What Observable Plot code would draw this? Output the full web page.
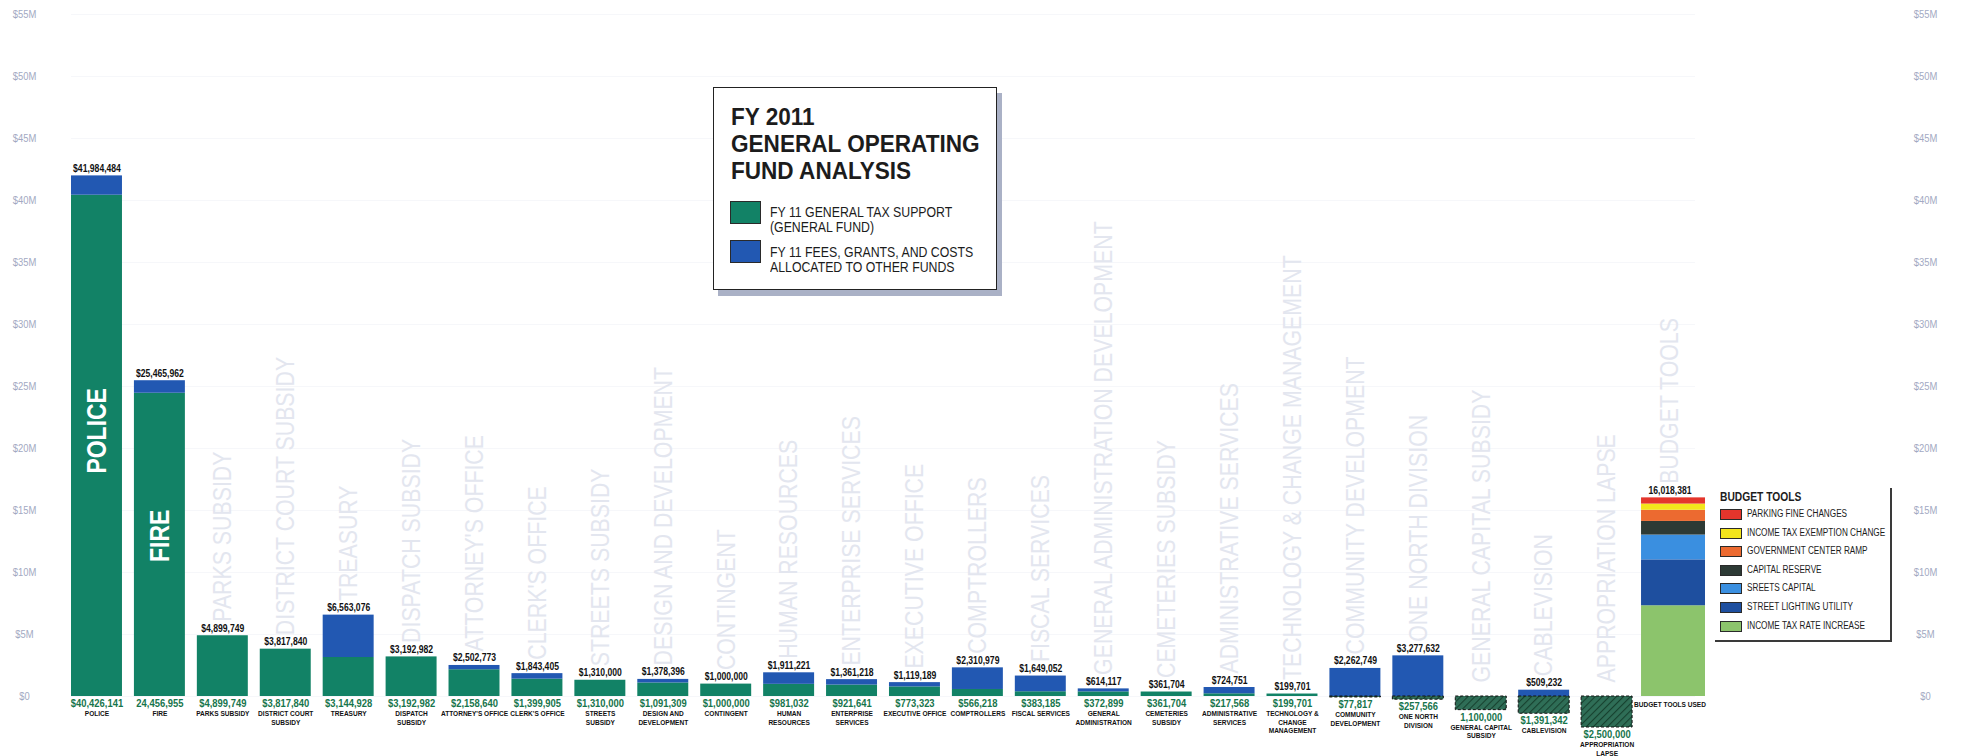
<!DOCTYPE html>
<html>
<head>
<meta charset="utf-8">
<script src="https://cdn.jsdelivr.net/npm/d3@7"></script>
<script src="https://cdn.jsdelivr.net/npm/@observablehq/plot@0.6"></script>
<style>
  html, body { margin: 0; padding: 0; background: #fff; overflow: hidden; }
  #wrap { position: relative; width: 1961px; height: 756px; font-family: 'Liberation Sans', Arial, sans-serif; }
  #chart { position: absolute; left: 0; top: 0; }
  .nar { transform: scaleX(0.82); transform-origin: 0 0; }
  .tb { position: absolute; left: 713px; top: 87px; width: 284px; height: 203px; border: 1.5px solid #222; box-shadow: 5px 6px 0 #aab1c6; background: #fff; box-sizing: border-box; }
  .tb .t { position: absolute; left: 17px; font-size: 24px; font-weight: bold; height: 27px; line-height: 27px; color: #1c1c1c; white-space: nowrap; transform: scaleX(0.94); transform-origin: 0 0; }
  .sw { position: absolute; box-sizing: border-box; border: 1px solid #2a2a2a; }
  .tb .lt { position: absolute; left: 55.5px; font-size: 15px; height: 15px; line-height: 15px; color: #1c1c1c; white-space: nowrap; }
  .bt { position: absolute; left: 1715px; top: 488px; width: 177px; height: 154px; border-right: 2px solid #3a3a3a; border-bottom: 2px solid #3a3a3a; box-sizing: border-box; }
  .bt .h { position: absolute; left: 5px; top: 1.7px; font-size: 12.5px; line-height: 14px; font-weight: bold; color: #1c1c1c; white-space: nowrap; }
  .bt .r { position: absolute; left: 32px; font-size: 10px; line-height: 12px; color: #1c1c1c; white-space: nowrap; }
</style>
</head>
<body>
<svg width="0" height="0" style="position:absolute">
  <defs>
    <pattern id="hatch" patternUnits="userSpaceOnUse" width="5" height="5" patternTransform="rotate(45)">
      <rect width="5" height="5" fill="#2f6e57"></rect>
      <line x1="0" y1="0" x2="0" y2="5" stroke="#17412f" stroke-width="2.2"></line>
    </pattern>
  </defs>
</svg>
<div id="wrap">
  <div id="chart"></div>
  <div class="tb">
    <div class="t" style="top:15px;">FY 2011</div>
    <div class="t" style="top:42px;">GENERAL OPERATING</div>
    <div class="t" style="top:69px;">FUND ANALYSIS</div>
    <div class="sw" id="swG" style="left:15.5px;top:112.5px;width:31px;height:23px;"></div>
    <div class="lt nar" style="top:115.8px;">FY 11 GENERAL TAX SUPPORT</div>
    <div class="lt nar" style="top:130.8px;">(GENERAL FUND)</div>
    <div class="sw" id="swB" style="left:15.5px;top:151.5px;width:31px;height:23px;"></div>
    <div class="lt nar" style="top:155.8px;">FY 11 FEES, GRANTS, AND COSTS</div>
    <div class="lt nar" style="top:170.8px;">ALLOCATED TO OTHER FUNDS</div>
  </div>
  <div class="bt" id="bt"><div class="h nar">BUDGET TOOLS</div></div>
</div>
<script>
// ---------- DATA ----------
const categories = ["POLICE","FIRE","PARKS SUBSIDY","DISTRICT COURT SUBSIDY","TREASURY","DISPATCH SUBSIDY","ATTORNEY'S OFFICE","CLERK'S OFFICE","STREETS SUBSIDY","DESIGN AND DEVELOPMENT","CONTINGENT","HUMAN RESOURCES","ENTERPRISE SERVICES","EXECUTIVE OFFICE","COMPTROLLERS","FISCAL SERVICES","GENERAL ADMINISTRATION","CEMETERIES SUBSIDY","ADMINISTRATIVE SERVICES","TECHNOLOGY & CHANGE MANAGEMENT","COMMUNITY DEVELOPMENT","ONE NORTH DIVISION","GENERAL CAPITAL SUBSIDY","CABLEVISION","APPROPRIATION LAPSE","BUDGET TOOLS USED"];
const nameLabels = ["POLICE","FIRE","PARKS SUBSIDY","DISTRICT COURT\nSUBSIDY","TREASURY","DISPATCH\nSUBSIDY","ATTORNEY'S OFFICE","CLERK'S OFFICE","STREETS\nSUBSIDY","DESIGN AND\nDEVELOPMENT","CONTINGENT","HUMAN\nRESOURCES","ENTERPRISE\nSERVICES","EXECUTIVE OFFICE","COMPTROLLERS","FISCAL SERVICES","GENERAL\nADMINISTRATION","CEMETERIES\nSUBSIDY","ADMINISTRATIVE\nSERVICES","TECHNOLOGY &\nCHANGE\nMANAGEMENT","COMMUNITY\nDEVELOPMENT","ONE NORTH\nDIVISION","GENERAL CAPITAL\nSUBSIDY","CABLEVISION","APPROPRIATION\nLAPSE","BUDGET TOOLS USED"];
// FY 11 general tax support (negative = hatched amounts hanging below $0)
const generalTaxSupport = [40426141,24456955,4899749,3817840,3144928,3192982,2158640,1399905,1310000,1091309,1000000,981032,921641,773323,566218,383185,372899,361704,217568,199701,-77817,-257566,-1100000,-1391342,-2500000,null];
const generalLabels = ["$40,426,141","24,456,955","$4,899,749","$3,817,840","$3,144,928","$3,192,982","$2,158,640","$1,399,905","$1,310,000","$1,091,309","$1,000,000","$981,032","$921,641","$773,323","$566,218","$383,185","$372,899","$361,704","$217,568","$199,701","$77,817","$257,566","1,100,000","$1,391,342","$2,500,000",""];
// bar top (general tax support + fees, grants and costs allocated to other funds)
const totalValues = [41984484,25465962,4899749,3817840,6563076,3192982,2502773,1843405,1310000,1378396,1000000,1911221,1361218,1119189,2310979,1649052,614117,361704,724751,199701,2262749,3277632,0,509232,0,16018381];
const totalLabels = ["$41,984,484","$25,465,962","$4,899,749","$3,817,840","$6,563,076","$3,192,982","$2,502,773","$1,843,405","$1,310,000","$1,378,396","$1,000,000","$1,911,221","$1,361,218","$1,119,189","$2,310,979","$1,649,052","$614,117","$361,704","$724,751","$199,701","$2,262,749","$3,277,632","","$509,232","","16,018,381"];
const watermarks = ["","","PARKS SUBSIDY","DISTRICT COURT SUBSIDY","TREASURY","DISPATCH SUBSIDY","ATTORNEY'S OFFICE","CLERK'S OFFICE","STREETS SUBSIDY","DESIGN AND DEVELOPMENT","CONTINGENT","HUMAN RESOURCES","ENTERPRISE SERVICES","EXECUTIVE OFFICE","COMPTROLLERS","FISCAL SERVICES","GENERAL ADMINISTRATION DEVELOPMENT","CEMETERIES SUBSIDY","ADMINISTRATIVE SERVICES","TECHNOLOGY & CHANGE MANAGEMENT","COMMUNITY DEVELOPMENT","ONE NORTH DIVISION","GENERAL CAPITAL SUBSIDY","CABLEVISION","APPROPRIATION LAPSE","BUDGET TOOLS"];
const insideLabels = ["POLICE","FIRE"];
// Budget tools stack, bottom to top
const budgetTools = ["INCOME TAX RATE INCREASE","STREET LIGHTING UTILITY","SREETS CAPITAL","CAPITAL RESERVE","GOVERNMENT CENTER RAMP","INCOME TAX EXEMPTION CHANGE","PARKING FINE CHANGES"];
const budgetValues = [7318381,3700000,2000000,1100000,900000,500000,500000];
const budgetColors = ["#8cc46c","#1e4f9f","#3a8fe0","#2d3a35","#ec6a30","#f3e51c","#e4352c"];
const yTicks = [0,5e6,10e6,15e6,20e6,25e6,30e6,35e6,40e6,45e6,50e6,55e6];

const GREEN = "#128266", BLUE = "#2258b2", LABEL_GREEN = "#17754c";
const FONT = "'Liberation Sans', Arial, sans-serif";
const NARROW = 0.82;

// ---------- ROWS ----------
const rows = categories.map((cat, i) => ({
  cat,
  name: nameLabels[i],
  general: generalTaxSupport[i],
  generalLabel: generalLabels[i],
  total: totalValues[i],
  totalLabel: totalLabels[i],
  watermark: watermarks[i],
  inside: insideLabels[i] || ""
}));
const budgetRows = budgetTools.map((tool, i) => ({cat: "BUDGET TOOLS USED", tool, value: budgetValues[i]}));
const fmt = d => d === 0 ? "$0" : `$${d / 1e6}M`;

const chart = Plot.plot({
  width: 1961,
  height: 756,
  marginLeft: 71,
  marginRight: 266,
  marginTop: 14,
  marginBottom: 60,
  x: {domain: categories, paddingInner: 0.19, paddingOuter: 0, align: 0, round: false, axis: null},
  y: {domain: [0, 55e6], axis: null},
  color: {domain: budgetTools, range: budgetColors},
  style: {fontFamily: FONT, background: "transparent", overflow: "visible"},
  marks: [
    Plot.gridY(yTicks, {stroke: "#b9c0d6", strokeOpacity: 0.12}),
    Plot.axisY(yTicks, {anchor: "left", tickSize: 0, tickPadding: 47, textAnchor: "middle", tickFormat: fmt, color: "#a2a9c2", fontSize: 11.5, label: null}),
    Plot.axisY(yTicks, {anchor: "right", tickSize: 0, tickPadding: 230, textAnchor: "middle", tickFormat: fmt, color: "#a2a9c2", fontSize: 11.5, label: null}),
    // faint background names
    Plot.text(rows.filter(d => d.watermark), {
      x: "cat", y: d => Math.max(d.total, 0), text: "watermark", rotate: -90, textAnchor: "start",
      dy: -14, fontSize: 26, fill: "#e3e6ef"
    }),
    // general tax support (positive)
    Plot.barY(rows.filter(d => d.general > 0), {x: "cat", y1: 0, y2: "general", fill: GREEN}),
    // fees, grants and costs allocated to other funds
    Plot.barY(rows.filter(d => d.general !== null && d.total > Math.max(d.general, 0)), {x: "cat", y1: d => Math.max(d.general, 0), y2: "total", fill: BLUE}),
    // hatched amounts below $0
    Plot.barY(rows.filter(d => d.general < 0), {x: "cat", y1: 0, y2: "general", fill: "url(#hatch)", stroke: "#111", strokeWidth: 1, strokeDasharray: "3,2"}),
    // budget tools stack
    Plot.barY(budgetRows, {x: "cat", y: "value", fill: "tool", insetLeft: -3, insetRight: -10}),
    // big white labels
    Plot.text(rows.filter(d => d.inside), {x: "cat", y: d => d.general * 0.53, text: "inside", rotate: -90, fill: "white", fontSize: 28, fontWeight: "bold"}),
    // top totals
    Plot.text(rows.filter(d => d.totalLabel), {x: "cat", y: "total", text: "totalLabel", dy: -4, lineAnchor: "bottom", fontSize: 10.5, fontWeight: "bold", fill: "#111"}),
    // general tax support values
    Plot.text(rows.filter(d => d.generalLabel), {x: "cat", y: d => Math.min(d.general, 0), text: "generalLabel", dy: 2.5, lineAnchor: "top", fontSize: 11.5, fontWeight: "bold", fill: LABEL_GREEN}),
    // names
    Plot.text(rows.filter(d => d.generalLabel), {x: "cat", y: d => Math.min(d.general, 0), text: "name", dy: 13.5, lineAnchor: "top", fontSize: 8, lineHeight: 1.08, fontWeight: "bold", fill: "#111"}),
    Plot.text(rows.filter(d => !d.generalLabel), {x: "cat", y: 0, text: "name", dy: 5, lineAnchor: "top", fontSize: 8, fontWeight: "bold", fill: "#111"})
  ]
});
document.getElementById("chart").appendChild(chart);

// condensed look: compress every SVG text horizontally along its own direction
chart.querySelectorAll("text").forEach(t => {
  const tr = t.getAttribute("transform") || "";
  const x = t.getAttribute("x");
  let extra = "";
  if (x !== null && !isNaN(+x) && +x !== 0) { extra = ` translate(${+x},0)`; t.setAttribute("x", 0); }
  t.setAttribute("transform", `${tr}${extra} scale(${NARROW},1)`);
});

// legend swatch colours
document.getElementById("swG").style.background = GREEN;
document.getElementById("swB").style.background = BLUE;

// budget tools legend (top to bottom)
const bt = document.getElementById("bt");
budgetTools.slice().reverse().forEach((tool, i) => {
  const c = budgetColors[budgetTools.indexOf(tool)];
  const sw = document.createElement("div");
  sw.className = "sw";
  sw.style.cssText = `left:5px;top:${21 + 18.6 * i}px;width:22px;height:11px;background:${c};`;
  bt.appendChild(sw);
  const t = document.createElement("div");
  t.className = "r nar";
  t.style.top = `${19.9 + 18.6 * i}px`;
  t.textContent = tool;
  bt.appendChild(t);
});
</script>
</body>
</html>
